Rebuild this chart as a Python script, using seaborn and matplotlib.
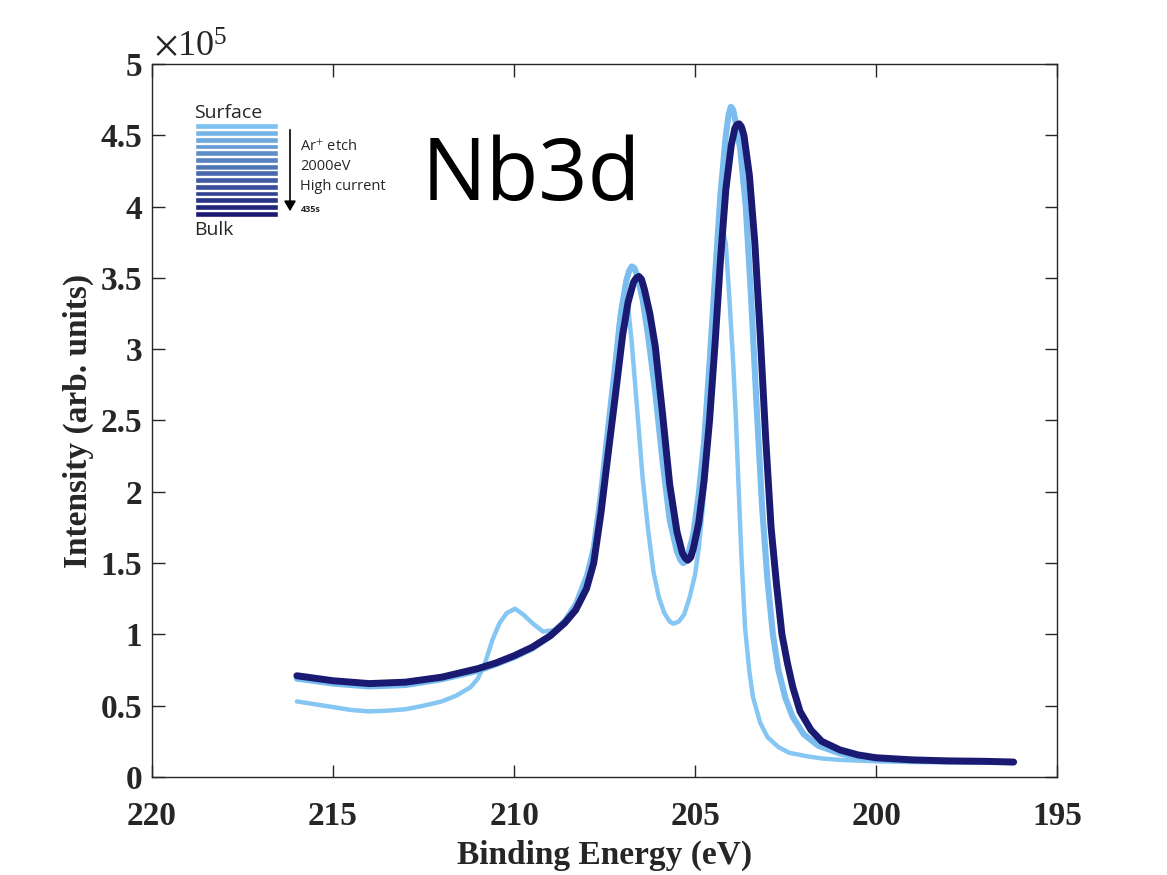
import numpy as np
import pandas as pd
import matplotlib
matplotlib.use('Agg')
import matplotlib.pyplot as plt
from matplotlib.ticker import FuncFormatter
import seaborn as sns

# binding energy (eV) and intensity (x1e5)
surface_energy = [216.0, 215.5, 215.0, 214.5, 214.0, 213.5, 213.0, 212.5, 212.0, 211.6,
                  211.2, 211.0, 210.8, 210.6, 210.4, 210.2, 209.97, 209.75, 209.5, 209.2,
                  208.9, 208.6, 208.3, 208.0, 207.8, 207.6, 207.4, 207.2, 207.1, 207.0,
                  206.93, 206.85, 206.75, 206.6, 206.45, 206.3, 206.15, 206.0, 205.85, 205.7,
                  205.6, 205.45, 205.3, 205.15, 205.0, 204.9, 204.8, 204.7, 204.6, 204.5,
                  204.4, 204.3, 204.22, 204.15, 204.05, 203.95, 203.87, 203.8, 203.72, 203.62,
                  203.5, 203.4, 203.2, 203.0, 202.7, 202.4, 201.9, 201.5, 201.0, 200.5,
                  200.0, 199.0, 198.0, 197.0, 196.2]
surface_int = [0.53, 0.51, 0.49, 0.47, 0.46, 0.465, 0.475, 0.50, 0.53, 0.57,
               0.63, 0.69, 0.80, 0.96, 1.08, 1.15, 1.18, 1.14, 1.08, 1.02,
               1.03, 1.10, 1.22, 1.42, 1.62, 1.98, 2.45, 2.90, 3.18, 3.35,
               3.38, 3.30, 3.05, 2.58, 2.10, 1.74, 1.44, 1.26, 1.15, 1.09,
               1.075, 1.09, 1.14, 1.26, 1.42, 1.60, 1.85, 2.15, 2.55, 2.95,
               3.40, 3.72, 3.82, 3.74, 3.35, 2.92, 2.50, 2.05, 1.55, 1.05,
               0.74, 0.56, 0.38, 0.28, 0.21, 0.17, 0.145, 0.13, 0.12, 0.115,
               0.11, 0.105, 0.103, 0.10, 0.10]

mid_energy = [216.0, 215.0, 214.0, 213.0, 212.0, 211.0, 210.5, 210.0, 209.5, 209.0,
              208.6, 208.3, 208.0, 207.8, 207.6, 207.4, 207.2, 207.05, 206.9, 206.82,
              206.75, 206.68, 206.6, 206.45, 206.3, 206.1, 205.9, 205.7, 205.5, 205.4,
              205.33, 205.26, 205.2, 205.05, 204.9, 204.75, 204.6, 204.45, 204.3, 204.15,
              204.07, 204.01, 203.95, 203.9, 203.75, 203.6, 203.45, 203.3, 203.15, 203.0,
              202.85, 202.7, 202.5, 202.3, 202.0, 201.6, 201.0, 200.5, 200.0, 199.0,
              198.0, 197.0, 196.2]
mid_int = [0.69, 0.655, 0.635, 0.645, 0.685, 0.745, 0.79, 0.84, 0.90, 0.99,
           1.09, 1.20, 1.38, 1.60, 1.98, 2.45, 2.90, 3.25, 3.48, 3.55,
           3.58, 3.57, 3.52, 3.35, 3.10, 2.70, 2.22, 1.80, 1.58, 1.52,
           1.50, 1.51, 1.55, 1.70, 1.98, 2.35, 2.90, 3.50, 4.08, 4.50,
           4.65, 4.70, 4.68, 4.62, 4.40, 4.00, 3.35, 2.60, 1.90, 1.38,
           1.00, 0.75, 0.55, 0.42, 0.30, 0.22, 0.165, 0.14, 0.125, 0.115,
           0.11, 0.107, 0.103]

bulk_energy = [216.0, 215.0, 214.0, 213.0, 212.0, 211.0, 210.5, 210.0, 209.5, 209.0,
               208.6, 208.3, 208.0, 207.8, 207.6, 207.4, 207.2, 207.0, 206.85, 206.7,
               206.62, 206.55, 206.48, 206.4, 206.25, 206.1, 205.9, 205.7, 205.5, 205.35,
               205.27, 205.2, 205.12, 205.05, 204.9, 204.75, 204.6, 204.45, 204.3, 204.15,
               204.0, 203.9, 203.84, 203.78, 203.72, 203.65, 203.5, 203.35, 203.2, 203.05,
               202.9, 202.75, 202.6, 202.45, 202.3, 202.1, 201.8, 201.5, 201.0, 200.5,
               200.0, 199.0, 198.0, 197.0, 196.2]
bulk_int = [0.71, 0.675, 0.655, 0.665, 0.70, 0.76, 0.80, 0.85, 0.91, 0.99,
            1.08, 1.17, 1.32, 1.50, 1.85, 2.27, 2.68, 3.10, 3.33, 3.47,
            3.50, 3.51, 3.49, 3.42, 3.25, 3.02, 2.55, 2.05, 1.72, 1.57,
            1.535, 1.52, 1.54, 1.60, 1.78, 2.08, 2.50, 3.03, 3.62, 4.12,
            4.43, 4.55, 4.575, 4.58, 4.56, 4.50, 4.22, 3.75, 3.10, 2.38,
            1.75, 1.35, 1.00, 0.80, 0.63, 0.46, 0.33, 0.25, 0.19, 0.155,
            0.135, 0.12, 0.113, 0.11, 0.105]

etch_steps = list(range(14))
x_ticks = [220, 215, 210, 205, 200, 195]
y_ticks = [0, 0.5, 1, 1.5, 2, 2.5, 3, 3.5, 4, 4.5, 5]

sns.set_style('ticks')
plt.rcParams['font.family'] = ['Liberation Serif', 'DejaVu Serif']
plt.rcParams['mathtext.fontset'] = 'stix'

fig = plt.figure(figsize=(11.67, 8.75), dpi=100)
ax = fig.add_axes([0.1303, 0.112, 0.7755, 0.8149])

df_s = pd.DataFrame({'E': surface_energy, 'I': surface_int})
df_m = pd.DataFrame({'E': mid_energy, 'I': mid_int})
df_b = pd.DataFrame({'E': bulk_energy, 'I': bulk_int})
sns.lineplot(data=df_s, x='E', y='I', ax=ax, color='#86c6f2', lw=3.2, sort=False)
sns.lineplot(data=df_m, x='E', y='I', ax=ax, color='#7bbdee', lw=4.4, sort=False)
sns.lineplot(data=df_b, x='E', y='I', ax=ax, color='#1b1a73', lw=5.0, sort=False)

ax.set_xlim(220, 195)
ax.set_ylim(0, 5)
ax.set_xticks(x_ticks)
ax.set_yticks(y_ticks)
ax.yaxis.set_major_formatter(FuncFormatter(lambda v, p: '%g' % v))
ax.tick_params(direction='in', length=9, width=1, colors='#262626',
               top=True, right=True, labelsize=24)
ax.tick_params(axis='x', pad=17)
ax.tick_params(axis='y', pad=7)
for lab in ax.get_xticklabels() + ax.get_yticklabels():
    lab.set_fontweight('bold')
for s in ax.spines.values():
    s.set_color('#262626')
    s.set_linewidth(1)
ax.set_xlabel('Binding Energy (eV)', fontsize=24, fontweight='bold', labelpad=6)
ax.set_ylabel('Intensity (arb. units)', fontsize=24, fontweight='bold', labelpad=5)
ax.text(0.002, 1.0, r'$\times\mathregular{10^5}$', transform=ax.transAxes,
        fontsize=26, va='bottom', ha='left', color='#262626')

ax.text(0.298, 0.809, 'Nb3d', transform=ax.transAxes, fontsize=62,
        family='Open Sans', va='baseline', ha='left', color='black')

# depth legend
pal = sns.blend_palette(['#7cc1ef', '#1b1a72'], len(etch_steps))
lax = fig.add_axes([195 / 1167, 1 - 217 / 875, 83 / 1167, 94 / 875])
lax.barh(etch_steps, [1] * len(etch_steps), height=0.86, color=pal)
lax.set_xlim(0, 1)
lax.set_ylim(len(etch_steps) - 0.5, -0.5)
lax.axis('off')

sans = ['Open Sans', 'DejaVu Sans']
fig.text(194 / 1167, 1 - 113 / 875, 'Surface', fontsize=14, family=sans, va='center')
fig.text(194 / 1167, 1 - 230 / 875, 'Bulk', fontsize=14, family=sans, va='center')
fig.text(300 / 1167, 1 - 147 / 875, r'Ar$^{+}$ etch', fontsize=10.5, family=sans, va='center')
fig.text(300 / 1167, 1 - 167 / 875, '2000eV', fontsize=10.5, family=sans, va='center')
fig.text(300 / 1167, 1 - 186 / 875, 'High current', fontsize=10.5, family=sans, va='center')
fig.text(301 / 1167, 1 - 210 / 875, '435s', fontsize=6.5, family=sans,
         fontweight='bold', va='center')
fig.patches.append(matplotlib.patches.FancyArrowPatch(
    (290 / 1167, 1 - 127 / 875), (290 / 1167, 1 - 214 / 875),
    transform=fig.transFigure, arrowstyle='-|>,head_length=6,head_width=3.5',
    color='black', lw=1.2))

fig.savefig('out.png', dpi=100)
